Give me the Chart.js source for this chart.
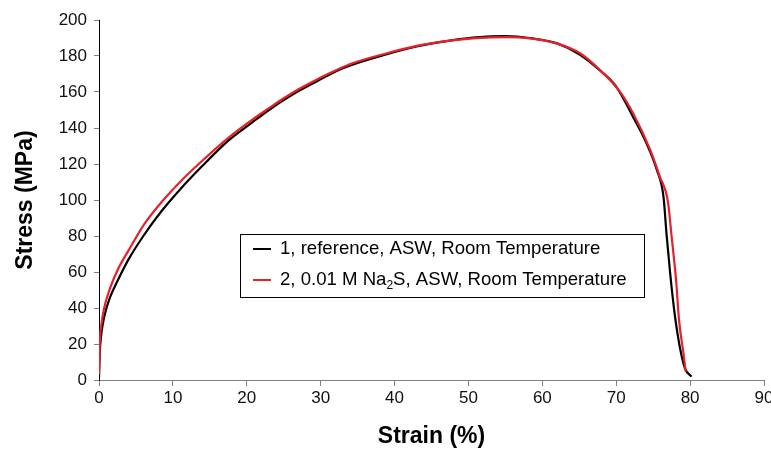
<!DOCTYPE html>
<html>
<head>
<meta charset="utf-8">
<script src="https://cdn.jsdelivr.net/npm/chart.js@4.4.1/dist/chart.umd.min.js"></script>
<style>
    html, body { margin: 0; padding: 0; background: #ffffff; }
    #wrap { width: 771px; height: 450px; position: relative; }
</style>
</head>
<body>
<div id="wrap"><canvas id="stressChart"></canvas></div>
<script>
// strain (%) / stress (MPa) readings for each specimen
const strainRef = [0, 0.1, 0.3, 0.7, 1.5, 2.5, 4, 6, 8.5, 11, 14, 17.5, 20.7, 23, 25, 27, 29.5, 32.6, 34, 38.5, 43, 47.5, 51, 55, 58.3, 62, 65, 67.8, 70, 72.3, 74.1, 75.5, 76.4, 76.8, 77.3, 77.9, 78.6, 79.3, 80.2];
const stressRef = [1, 15, 25, 35, 46, 55, 67, 80, 94, 106, 119, 133, 143, 150, 155.5, 160.5, 166, 172.5, 174.8, 180.5, 185.3, 188.5, 190.3, 191, 190, 187, 181, 172, 163, 146, 131.5, 116.7, 101.8, 81.5, 59.3, 37, 18.5, 6.5, 1.9];

const strainNa2S = [0, 0.1, 0.3, 0.7, 1.5, 2.5, 4, 6.2, 8.5, 11.2, 14.3, 17.5, 20.7, 23, 25, 27, 29.5, 32.6, 34, 38.5, 43, 47.5, 50.6, 55.2, 58.3, 61.9, 65.1, 67.8, 70.5, 72.3, 74.6, 75.9, 77.0, 77.5, 78.1, 78.5, 79.1, 79.4];
const stressNa2S = [3, 20, 30, 40, 51, 61, 72, 87, 99, 111, 123, 134.5, 144.5, 151, 156.5, 161.5, 167, 173, 175.5, 181, 185.6, 188.5, 189.8, 190.5, 189.8, 187, 181.5, 172.2, 160.2, 148, 127.8, 113, 99, 79.6, 55.6, 33.3, 14.8, 4.6];

const xTicks = [0, 10, 20, 30, 40, 50, 60, 70, 80, 90];
const yTicks = [0, 20, 40, 60, 80, 100, 120, 140, 160, 180, 200];

const legendRows = [
    { color: "#000000", parts: [["1, reference, ASW, Room Temperature", false]] },
    { color: "#e8202a", parts: [["2, 0.01 M Na", false], ["2", true], ["S, ASW, Room Temperature", false]] }
];

function toPoints(xs, ys) {
    return xs.map((x, i) => ({ x: x, y: ys[i] }));
}

// boxed legend with subscript support
const boxLegend = {
    id: "boxLegend",
    afterDraw(chart) {
        const ctx = chart.ctx;
        const area = chart.chartArea;
        const left = area.left + 141;
        const top = area.top + 214;
        const w = 404;
        const h = 63;

        ctx.save();
        ctx.fillStyle = "#ffffff";
        ctx.fillRect(left, top, w, h);
        ctx.strokeStyle = "#000000";
        ctx.lineWidth = 1;
        ctx.strokeRect(left + 0.5, top + 0.5, w, h);

        legendRows.forEach((row, i) => {
            const y = top + 15 + i * 31;
            ctx.strokeStyle = row.color;
            ctx.lineWidth = 2;
            ctx.beginPath();
            ctx.moveTo(left + 13, y);
            ctx.lineTo(left + 31, y);
            ctx.stroke();

            let x = left + 40;
            ctx.fillStyle = "#000000";
            ctx.textBaseline = "middle";
            row.parts.forEach(([text, sub]) => {
                ctx.font = sub ? "12px 'Liberation Sans', Arial, sans-serif" : "18.6px 'Liberation Sans', Arial, sans-serif";
                ctx.fillText(text, x, sub ? y + 6 : y);
                x += ctx.measureText(text).width;
            });
        });
        ctx.restore();
    }
};

const tickFont = { family: "'Liberation Sans', Arial, sans-serif", size: 17 };
const titleFont = { family: "'Liberation Sans', Arial, sans-serif", size: 23, weight: "bold" };

new Chart(document.getElementById("stressChart"), {
    type: "line",
    data: {
        datasets: [
            {
                label: "1, reference, ASW, Room Temperature",
                data: toPoints(strainRef, stressRef),
                borderColor: "#000000",
                borderWidth: 2.2,
                pointRadius: 0,
                cubicInterpolationMode: "monotone",
                order: 2
            },
            {
                label: "2, 0.01 M Na2S, ASW, Room Temperature",
                data: toPoints(strainNa2S, stressNa2S),
                borderColor: "#e8202a",
                borderWidth: 2.2,
                pointRadius: 0,
                cubicInterpolationMode: "monotone",
                order: 1
            }
        ]
    },
    options: {
        responsive: true,
        maintainAspectRatio: false,
        animation: false,
        layout: { padding: { left: 0, right: 7, top: 20, bottom: 0 } },
        plugins: {
            legend: { display: false },
            tooltip: { enabled: false }
        },
        scales: {
            x: {
                type: "linear",
                min: 0,
                max: 90,
                afterBuildTicks: (scale) => { scale.ticks = xTicks.map(v => ({ value: v })); },
                afterFit: (scale) => { scale.height = 70; scale.paddingRight = 0; scale.paddingLeft = 0; },
                ticks: { color: "#111111", font: tickFont, padding: 2, maxRotation: 0 },
                grid: { drawOnChartArea: false, drawTicks: true, tickLength: 6, color: "#808080" },
                border: { color: "#808080", width: 1 },
                title: { display: true, text: "Strain (%)", color: "#000000", font: titleFont, padding: { top: 10, bottom: 0 } }
            },
            y: {
                type: "linear",
                min: 0,
                max: 200,
                afterBuildTicks: (scale) => { scale.ticks = yTicks.map(v => ({ value: v })); },
                afterFit: (scale) => { scale.width = 99; },
                ticks: { color: "#111111", font: tickFont, padding: 7 },
                grid: { drawOnChartArea: false, drawTicks: true, tickLength: 5, color: "#808080" },
                border: { color: "#000000", width: 1 },
                title: { display: true, text: "Stress (MPa)", color: "#000000", font: titleFont, padding: { top: 12, bottom: 6 } }
            }
        }
    },
    plugins: [boxLegend]
});
</script>
</body>
</html>
